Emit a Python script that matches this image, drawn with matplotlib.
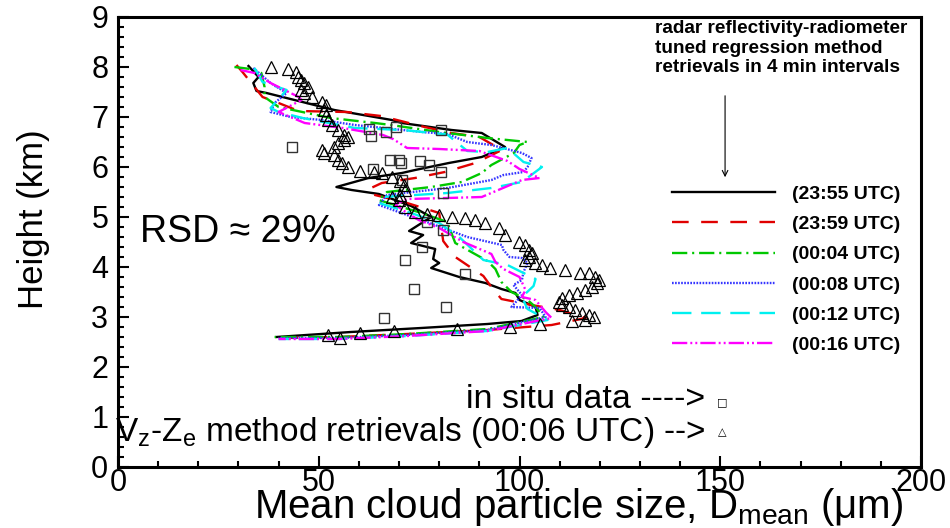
import matplotlib
matplotlib.use('Agg')
import matplotlib.pyplot as plt
from matplotlib.ticker import MultipleLocator

plt.rcParams['font.family'] = ['Liberation Sans', 'DejaVu Sans']
plt.rcParams['lines.scale_dashes'] = False
plt.rcParams['mathtext.fontset'] = 'custom'
plt.rcParams['mathtext.rm'] = 'Liberation Sans'

# tuned regression retrievals, mean particle size (um) against height (km)
d_2355 = [32.5, 35.0, 33.7, 34.5, 37.0, 53.9, 68.2, 70.7, 83.1, 90.6, 96.4, 90.6, 82.4, 74.0, 70.7,
          62.4, 54.4, 58.2, 65.0, 73.0, 78.0, 72.5, 76.0, 73.0, 79.0, 78.5, 80.0, 78.0, 85.0, 91.5,
          95.5, 99.0, 100.0, 104.0, 104.5, 100.5, 92.0, 75.5, 58.0, 39.5]
h_2355 = [8.02, 7.80, 7.68, 7.52, 7.48, 7.14, 6.94, 6.88, 6.74, 6.68, 6.40, 6.20, 6.08, 5.94, 5.88,
          5.78, 5.60, 5.54, 5.46, 5.22, 5.00, 4.72, 4.64, 4.48, 4.36, 4.16, 4.08, 3.98, 3.80, 3.68,
          3.56, 3.48, 3.34, 3.20, 3.04, 2.92, 2.86, 2.78, 2.70, 2.60]

d_2359 = [29.5, 31.0, 34.0, 36.0, 40.0, 45.0, 57.0, 65.5, 76.4, 83.0, 90.0, 95.6, 89.0, 81.4, 74.0,
          65.7, 62.5, 63.0, 72.0, 80.0, 80.5, 81.0, 84.0, 91.0, 93.0, 95.5, 103.0, 110.0, 116.5, 108.0,
          92.0, 72.0, 55.0, 40.0]
h_2359 = [8.04, 7.90, 7.60, 7.40, 7.28, 7.12, 7.10, 7.02, 6.80, 6.68, 6.60, 6.34, 6.08, 5.90, 5.78,
          5.68, 5.56, 5.46, 5.28, 5.08, 4.80, 4.52, 4.20, 3.82, 3.60, 3.36, 3.24, 3.14, 2.98, 2.84,
          2.74, 2.66, 2.60, 2.58]

d_0004 = [29.0, 33.0, 35.7, 36.5, 36.5, 40.0, 53.0, 64.0, 68.0, 80.0, 92.0, 102.0, 100.0, 98.6, 93.0,
          90.6, 85.6, 78.0, 67.0, 64.9, 75.6, 82.0, 84.0, 88.0, 92.0, 94.0, 95.5, 98.0, 102.0, 104.0,
          106.0, 92.0, 72.0, 55.0, 39.0]
h_0004 = [8.00, 7.96, 7.88, 7.60, 7.40, 7.20, 6.98, 6.88, 6.84, 6.70, 6.58, 6.50, 6.44, 6.28, 6.04,
          5.88, 5.70, 5.60, 5.50, 5.34, 5.08, 4.90, 4.48, 4.30, 4.12, 3.96, 3.70, 3.50, 3.34, 3.20,
          3.00, 2.76, 2.66, 2.60, 2.60]

d_0008 = [33.7, 38.0, 42.0, 39.0, 38.0, 43.0, 50.7, 59.0, 75.7, 82.0, 87.0, 93.0, 100.6, 103.0, 102.0,
          101.0, 96.0, 93.0, 82.0, 67.0, 65.0, 72.0, 79.0, 87.0, 95.6, 96.0, 97.5, 100.6, 102.0, 101.0,
          100.6, 98.5, 100.6, 98.0, 105.0, 106.5, 92.0, 72.0, 55.0, 40.0]
h_0008 = [7.98, 7.68, 7.48, 7.28, 7.10, 7.00, 6.94, 6.84, 6.70, 6.66, 6.50, 6.44, 6.28, 6.18, 6.00,
          5.90, 5.84, 5.74, 5.58, 5.44, 5.24, 5.04, 4.84, 4.60, 4.44, 4.34, 4.20, 4.18, 4.08, 3.90,
          3.74, 3.64, 3.44, 3.20, 3.18, 3.00, 2.74, 2.64, 2.58, 2.58]

d_0012 = [34.0, 36.0, 42.0, 38.0, 40.0, 46.0, 59.0, 71.0, 82.0, 87.0, 92.0, 97.0, 101.0, 105.6, 100.6,
          93.0, 82.0, 66.0, 65.0, 73.0, 80.0, 85.0, 91.0, 97.0, 100.0, 104.0, 103.5, 100.6, 102.0, 107.0,
          92.0, 72.0, 55.0, 40.0]
h_0012 = [7.98, 7.70, 7.54, 7.18, 7.10, 6.98, 6.78, 6.74, 6.65, 6.32, 6.30, 6.38, 6.10, 6.00, 5.70,
          5.58, 5.48, 5.40, 5.28, 5.08, 4.88, 4.60, 4.14, 4.04, 3.92, 3.76, 3.62, 3.40, 3.16, 2.94,
          2.72, 2.62, 2.56, 2.56]

d_0016 = [30.5, 34.0, 38.0, 45.0, 45.7, 40.0, 46.5, 56.0, 66.0, 68.5, 72.0, 80.0, 90.0, 97.0, 100.0,
          105.0, 100.6, 90.6, 82.0, 72.0, 69.0, 72.0, 74.9, 80.0, 86.0, 93.0, 94.0, 96.0, 100.0, 101.5,
          100.6, 104.0, 106.5, 108.0, 92.0, 72.0, 55.0, 40.0]
h_0016 = [7.94, 7.88, 7.68, 7.40, 7.34, 7.10, 6.88, 6.78, 6.64, 6.56, 6.38, 6.36, 6.32, 6.12, 5.96,
          5.78, 5.74, 5.40, 5.38, 5.36, 5.25, 5.08, 4.94, 4.78, 4.50, 4.26, 4.10, 3.96, 3.80, 3.54,
          3.40, 3.34, 3.10, 2.98, 2.72, 2.62, 2.56, 2.56]

# aircraft in situ samples
d_insitu = [43.4, 62.4, 63.0, 66.7, 69.2, 80.4, 63.4, 67.7, 70.0, 70.4, 75.2, 77.4, 80.4, 70.7, 80.9,
            76.9, 81.0, 75.7, 71.4, 86.4, 73.7, 81.6, 66.2]
h_insitu = [6.40, 6.76, 6.62, 6.70, 6.80, 6.74, 5.96, 6.14, 6.14, 6.08, 6.12, 6.04, 5.90, 5.74, 5.48,
            4.90, 4.74, 4.40, 4.14, 3.86, 3.56, 3.20, 2.98]

# Vz-Ze method profile (00:06 UTC)
d_vzze = [38.2, 42.4, 44.4, 44.9, 45.7, 46.4, 47.4, 45.7, 46.4, 48.2, 50.7, 51.9, 51.4, 51.9, 52.4,
          53.2, 54.9, 56.2, 57.4, 56.2, 54.9, 53.9, 50.7, 51.4, 53.9, 54.9, 55.7, 57.4, 60.2, 63.7,
          65.7, 68.2, 70.2, 71.2, 71.4, 70.2, 68.2, 69.9, 71.4, 73.9, 76.9, 79.9, 83.1, 86.4, 88.9,
          91.4, 94.9, 96.4, 99.9, 101.4, 102.4, 103.1, 102.4, 101.4, 103.9, 105.6, 107.6, 111.4, 115.1, 117.4,
          118.9, 119.9, 119.3, 118.1, 116.4, 114.4, 112.4, 110.6, 109.9, 110.6, 112.4, 113.9, 115.6, 117.4, 118.6,
          116.4, 113.1, 105.1, 97.6, 84.4, 68.7, 60.2, 55.2, 52.4]
h_vzze = [8.00, 7.96, 7.90, 7.80, 7.74, 7.68, 7.60, 7.54, 7.48, 7.40, 7.30, 7.24, 7.14, 7.04, 6.94,
          6.84, 6.74, 6.64, 6.60, 6.54, 6.48, 6.40, 6.34, 6.28, 6.24, 6.14, 6.08, 6.00, 5.92, 5.90,
          5.88, 5.80, 5.72, 5.64, 5.54, 5.44, 5.40, 5.34, 5.20, 5.10, 5.06, 5.04, 5.00, 4.98, 4.94,
          4.88, 4.78, 4.64, 4.50, 4.44, 4.34, 4.28, 4.20, 4.14, 4.08, 4.04, 3.98, 3.94, 3.88, 3.88,
          3.80, 3.74, 3.68, 3.60, 3.54, 3.48, 3.44, 3.38, 3.30, 3.24, 3.20, 3.14, 3.08, 3.04, 3.00,
          2.94, 2.92, 2.86, 2.80, 2.76, 2.72, 2.68, 2.58, 2.64]

series = [
    ('(23:55 UTC)', d_2355, h_2355, 'black', None),
    ('(23:59 UTC)', d_2359, h_2359, '#e00000', (12, 9)),
    ('(00:04 UTC)', d_0004, h_0004, '#00c800', (11, 3.5, 1.5, 3.5)),
    ('(00:08 UTC)', d_0008, h_0008, '#3535ff', (1.2, 1.0)),
    ('(00:12 UTC)', d_0012, h_0012, '#00f0f0', (14, 7)),
    ('(00:16 UTC)', d_0016, h_0016, '#ff00ff', (11, 2.2, 1.4, 2.2, 1.4, 2.2)),
]

fig = plt.figure(figsize=(9.5, 5.28), dpi=100)
ax = fig.add_axes([118 / 950, 1 - 467 / 528, 803 / 950, 450 / 528])

for label, d, h, color, dash in series:
    line, = ax.plot(d, h, color=color, lw=1.7, label=label)
    if dash is not None:
        line.set_dashes(dash)

ax.plot(d_insitu, h_insitu, 's', ms=7, mfc='none', mec='#333333', mew=1.0, zorder=5)
ax.plot(d_vzze, h_vzze, '^', ms=8, mfc='none', mec='black', mew=0.9, zorder=6)

ax.set_xlim(0, 200)
ax.set_ylim(0, 9)
ax.xaxis.set_major_locator(MultipleLocator(50))
ax.xaxis.set_minor_locator(MultipleLocator(10))
ax.yaxis.set_major_locator(MultipleLocator(1))
ax.yaxis.set_minor_locator(MultipleLocator(0.2))
ax.tick_params(which='both', direction='in', top=False, right=False, labelsize=22, width=1.5)
ax.tick_params(which='major', length=8)
ax.tick_params(which='minor', length=4)
ax.tick_params(axis='x', pad=1)
ax.tick_params(axis='y', pad=7)
for spine in ax.spines.values():
    spine.set_linewidth(2.2)

ax.set_xlabel('Mean cloud particle size, D$_\\mathregular{mean}$ (\u03bcm)', fontsize=29)
ax.xaxis.label.set_verticalalignment('baseline')
ax.xaxis.set_label_coords(0.574, -0.114)
ax.set_ylabel('Height (km)', fontsize=25)
ax.yaxis.set_label_coords(-0.085, 0.55)

leg = ax.legend(loc='upper left', bbox_to_anchor=(0.690, 0.626), frameon=False,
                borderpad=0, borderaxespad=0, handlelength=5.3, handletextpad=0.88,
                labelspacing=0.65, prop={'weight': 'bold', 'size': 14})

ax.text(133.7, 8.94, 'radar reflectivity-radiometer\ntuned regression method\nretrievals in 4 min intervals',
        fontsize=13.7, fontweight='bold', ha='left', va='top')
ax.annotate('', xy=(151.2, 5.74), xytext=(151.2, 7.48),
            arrowprops=dict(arrowstyle='->', lw=0.8, color='black'))

ax.text(5.5, 4.7, 'RSD \u2248 29%', fontsize=27, ha='left', va='center')

ax.text(146.2, 1.34, 'in situ data ---->', fontsize=24.5, ha='right', va='center')
ax.text(150.4, 1.30, '\u25a1', fontsize=8, ha='center', va='center', family=['DejaVu Sans'])
ax.text(146.2, 0.70, 'V$_\\mathregular{z}$-Z$_\\mathregular{e}$ method retrievals (00:06 UTC) -->',
        fontsize=24, ha='right', va='center')
ax.text(150.4, 0.70, '\u25b3', fontsize=8, ha='center', va='center', family=['DejaVu Sans'])

fig.savefig('out.png', dpi=100)
